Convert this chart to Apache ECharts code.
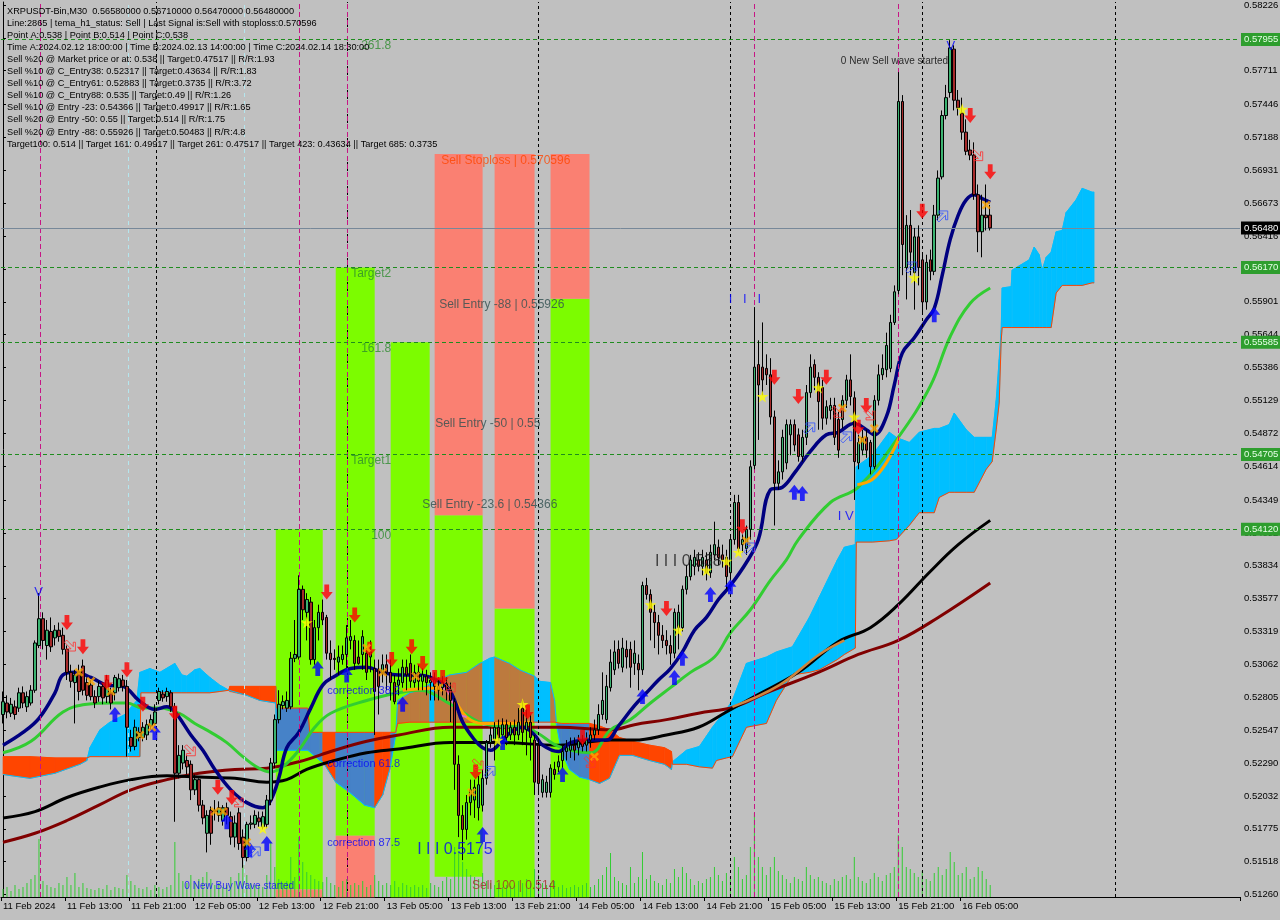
<!DOCTYPE html>
<html><head><meta charset="utf-8">
<script src="https://cdn.jsdelivr.net/npm/echarts@6/dist/echarts.min.js"></script>
<style>html,body{margin:0;padding:0;background:#C0C0C0;}#c{width:1280px;height:920px;}</style>
</head><body><div id="c"></div>
<script>
// ---------- DATA ----------
const ohlc = [ // [open, close, low, high]
[.5267,.5277,.5260,.5285],[.5276,.5269,.5264,.5282],[.5268,.5275,.5265,.5280],[.5273,.5267,.5263,.5278],
[.5272,.5284,.5269,.5288],[.5284,.5276,.5272,.5289],[.5273,.5281,.5269,.5285],[.5276,.5286,.5274,.5290],
[.5286,.5323,.5284,.5325],[.5321,.5342,.5319,.5362],[.5342,.5325,.5318,.5347],[.5321,.5333,.5310,.5341],
[.5332,.5320,.5316,.5343],[.5327,.5333,.5321,.5337],[.5333,.5328,.5324,.5339],[.5329,.5318,.5314,.5335],
[.5318,.5300,.5294,.5321],[.5300,.5293,.5288,.5306],[.5292,.5298,.5260,.5302],[.5300,.5285,.5278,.5306],
[.5305,.5286,.5282,.5310],[.5292,.5282,.5278,.5296],[.5290,.5281,.5278,.5294],[.5281,.5276,.5272,.5286],
[.5281,.5289,.5277,.5293],[.5289,.5280,.5275,.5292],[.5281,.5294,.5276,.5298],[.5284,.5276,.5271,.5288],
[.5284,.5296,.5278,.5298],[.5288,.5295,.5285,.5299],[.5294,.5289,.5285,.5298],[.5289,.5257,.5234,.5294],
[.5249,.5242,.5238,.5255],[.5242,.5257,.5239,.5263],[.5249,.5253,.5246,.5257],[.5249,.5257,.5246,.5261],
[.5251,.5259,.5247,.5263],[.5258,.5263,.5255,.5267],[.5260,.5269,.5259,.5275],[.5278,.5285,.5275,.5288],
[.5283,.5280,.5277,.5286],[.5281,.5285,.5277,.5288],[.5284,.5273,.5269,.5286],[.5273,.5221,.5183,.5276],
[.5221,.5235,.5217,.5243],[.5229,.5239,.5224,.5243],[.5231,.5226,.5220,.5235],[.5228,.5208,.5200,.5231],
[.5208,.5216,.5204,.5220],[.5216,.5196,.5191,.5217],[.5196,.5186,.5181,.5200],[.5174,.5188,.5159,.5192],
[.5192,.5174,.5165,.5195],[.5192,.5191,.5184,.5200],[.5188,.5194,.5183,.5199],[.5184,.5194,.5180,.5196],
[.5194,.5188,.5181,.5198],[.5187,.5171,.5165,.5191],[.5171,.5182,.5163,.5188],[.5190,.5166,.5161,.5194],
[.5171,.5155,.5147,.5177],[.5155,.5181,.5152,.5183],[.5181,.5182,.5177,.5188],[.5181,.5188,.5178,.5192],
[.5186,.5183,.5179,.5191],[.5179,.5187,.5177,.5191],[.5181,.5200,.5178,.5204],[.5200,.5229,.5196,.5233],
[.5229,.5263,.5225,.5267],[.5263,.5275,.5260,.5286],[.5274,.5277,.5271,.5282],[.5272,.5278,.5269,.5285],
[.5273,.5311,.5271,.5316],[.5311,.5314,.5308,.5341],[.5312,.5365,.5310,.5376],[.5365,.5349,.5341,.5368],
[.5347,.5357,.5325,.5362],[.5355,.5310,.5306,.5359],[.5310,.5335,.5306,.5341],[.5335,.5347,.5325,.5353],
[.5347,.5341,.5337,.5357],[.5343,.5315,.5310,.5345],[.5315,.5310,.5294,.5325],[.5311,.5310,.5302,.5318],
[.5308,.5312,.5298,.5321],[.5310,.5314,.5306,.5321],[.5314,.5327,.5303,.5337],[.5325,.5328,.5318,.5341],
[.5325,.5307,.5302,.5329],[.5312,.5307,.5306,.5325],[.5314,.5328,.5302,.5333],[.5315,.5300,.5294,.5319],
[.5312,.5316,.5300,.5325],[.5303,.5285,.5251,.5310],[.5302,.5289,.5267,.5310],[.5300,.5306,.5292,.5314],
[.5306,.5300,.5286,.5314],[.5300,.5292,.5278,.5310],[.5292,.5277,.5275,.5298],[.5290,.5294,.5282,.5303],
[.5292,.5304,.5288,.5310],[.5304,.5298,.5286,.5310],[.5307,.5293,.5288,.5314],[.5292,.5300,.5288,.5306],
[.5300,.5293,.5286,.5306],[.5293,.5298,.5286,.5303],[.5297,.5292,.5282,.5302],[.5292,.5294,.5278,.5300],
[.5294,.5289,.5278,.5300],[.5289,.5286,.5278,.5296],[.5288,.5292,.5282,.5297],[.5291,.5286,.5278,.5296],
[.5286,.5278,.5261,.5292],[.5277,.5228,.5208,.5280],[.5228,.5188,.5171,.5235],[.5188,.5177,.5153,.5196],
[.5177,.5198,.5169,.5204],[.5198,.5208,.5188,.5216],[.5200,.5210,.5186,.5216],[.5194,.5212,.5184,.5219],
[.5196,.5217,.5191,.5224],[.5217,.5245,.5212,.5247],[.5245,.5251,.5241,.5257],[.5247,.5257,.5231,.5261],
[.5257,.5249,.5246,.5263],[.5251,.5259,.5247,.5264],[.5259,.5249,.5243,.5263],[.5251,.5257,.5247,.5261],
[.5257,.5251,.5243,.5263],[.5251,.5261,.5247,.5272],[.5272,.5253,.5243,.5278],[.5255,.5261,.5235,.5271],
[.5261,.5249,.5231,.5267],[.5247,.5214,.5204,.5251],[.5243,.5213,.5204,.5247],[.5206,.5216,.5202,.5220],
[.5206,.5214,.5202,.5219],[.5206,.5225,.5202,.5228],[.5224,.5220,.5216,.5230],[.5226,.5230,.5222,.5235],
[.5231,.5238,.5225,.5243],[.5238,.5241,.5231,.5247],[.5239,.5243,.5233,.5249],[.5243,.5239,.5231,.5249],
[.5241,.5246,.5235,.5251],[.5246,.5242,.5238,.5251],[.5243,.5247,.5238,.5253],[.5247,.5251,.5241,.5257],
[.5251,.5255,.5247,.5263],[.5255,.5267,.5251,.5275],[.5267,.5278,.5263,.5300],[.5263,.5289,.5260,.5298],
[.5288,.5308,.5285,.5318],[.5302,.5316,.5298,.5325],[.5318,.5307,.5303,.5325],[.5304,.5319,.5300,.5327],
[.5318,.5312,.5303,.5325],[.5318,.5304,.5288,.5324],[.5307,.5315,.5298,.5325],[.5307,.5302,.5286,.5314],
[.5302,.5368,.5298,.5371],[.5368,.5361,.5357,.5374],[.5361,.5347,.5325,.5365],[.5347,.5339,.5319,.5353],
[.5339,.5329,.5314,.5345],[.5329,.5325,.5319,.5337],[.5325,.5321,.5314,.5333],[.5321,.5315,.5306,.5329],
[.5315,.5347,.5311,.5350],[.5335,.5347,.5318,.5353],[.5335,.5365,.5332,.5368],[.5365,.5375,.5361,.5384],
[.5375,.5388,.5372,.5392],[.5383,.5390,.5376,.5396],[.5388,.5383,.5379,.5394],[.5383,.5390,.5376,.5396],
[.5388,.5378,.5372,.5394],[.5378,.5394,.5374,.5400],[.5392,.5400,.5388,.5418],[.5398,.5390,.5384,.5404],
[.5392,.5388,.5382,.5400],[.5390,.5375,.5365,.5396],[.5378,.5404,.5372,.5408],[.5404,.5433,.5400,.5439],
[.5433,.5397,.5394,.5439],[.5400,.5404,.5394,.5408],[.5397,.5412,.5392,.5415],[.5412,.5461,.5404,.5466],
[.5462,.5539,.5459,.5586],[.5541,.5525,.5482,.5560],[.5539,.5529,.5517,.5574],[.5538,.5533,.5525,.5549],
[.5533,.5500,.5494,.5546],[.5500,.5448,.5415,.5505],[.5448,.5457,.5443,.5466],[.5457,.5484,.5451,.5490],
[.5464,.5494,.5459,.5498],[.5486,.5494,.5470,.5498],[.5494,.5478,.5473,.5498],[.5486,.5469,.5465,.5491],
[.5469,.5484,.5465,.5490],[.5484,.5519,.5478,.5525],[.5519,.5539,.5515,.5549],[.5541,.5531,.5521,.5545],
[.5531,.5512,.5490,.5535],[.5523,.5499,.5490,.5529],[.5499,.5508,.5494,.5513],[.5505,.5509,.5498,.5515],
[.5509,.5484,.5478,.5515],[.5498,.5474,.5468,.5504],[.5498,.5513,.5491,.5517],[.5513,.5529,.5507,.5533],
[.5529,.5516,.5509,.5549],[.5515,.5465,.5435,.5520],[.5464,.5480,.5459,.5486],[.5474,.5484,.5470,.5490],
[.5484,.5474,.5468,.5490],[.5480,.5461,.5455,.5482],[.5461,.5513,.5459,.5517],[.5513,.5533,.5509,.5541],
[.5533,.5538,.5529,.5549],[.5537,.5556,.5531,.5566],[.5538,.5574,.5535,.5580],[.5574,.5598,.5572,.5603],
[.5599,.5747,.5596,.5770],[.5747,.5635,.5611,.5752],[.5617,.5650,.5592,.5658],[.5650,.5629,.5611,.5662],
[.5613,.5641,.5584,.5648],[.5641,.5617,.5603,.5650],[.5623,.5590,.5580,.5627],[.5590,.5621,.5584,.5627],
[.5623,.5614,.5607,.5631],[.5614,.5658,.5611,.5666],[.5658,.5687,.5654,.5693],[.5688,.5736,.5686,.5740],
[.5736,.5750,.5733,.5760],[.5754,.5789,.5750,.5795],[.5788,.5748,.5740,.5791],[.5748,.5742,.5736,.5756],
[.5738,.5723,.5717,.5750],[.5723,.5708,.5705,.5733],[.5709,.5705,.5701,.5717],[.5705,.5674,.5670,.5715],
[.5674,.5645,.5629,.5682],[.5645,.5658,.5625,.5674],[.5658,.5656,.5646,.5682],[.5658,.5648,.5646,.5666]
];
const volume = [
8,10,6,12,8,10,14,18, 22,58,16,12,10,9,14,12, 20,12,24,10,14,9,8,7, 9,8,12,7,10,9,8,22,
16,12,9,8,10,7,12,10, 8,10,12,55,24,16,14,22, 14,18,20,25,18,12,14,10, 12,20,16,24,32,22,14,12,
12,10,22,55,30,18,14,16, 40,20,60,35,25,22,18,16, 15,20,14,12,10,16,18,12, 14,12,16,10,12,22,16,12,
14,12,16,10,14,12,10,12, 10,12,9,14,12,10,16,20, 18,50,45,35,28,22,20,18, 24,16,14,12,14,10,12,11,
12,16,14,18,14,28,22,14, 12,14,16,10,12,9,10,12, 10,12,14,10,12,18,22,30, 44,20,16,14,12,30,14,20,
45,18,22,16,14,12,18,14, 28,20,30,24,18,12,16,14, 18,20,30,22,16,24,20,40, 30,18,22,50,84,40,30,22,
30,40,26,22,18,14,20,18, 16,30,22,18,20,16,14,12, 18,16,20,22,18,40,20,16, 14,18,24,20,16,22,24,30,
62,50,30,28,24,20,26,18, 16,24,30,22,28,45,35,22, 24,30,18,20,30,26,18,12
];
// moving averages: [bar index, price]
const maNavy = [[0,.5243],[5,.5253],[9,.5264],[13,.5284],[15,.5298],[18,.5300],[22,.5296],[26,.5290],[30,.5289],[34,.5278],[38,.5271],[41,.5273],[43,.5269],[47,.5251],[50,.5239],[53,.5224],[57,.5208],[61,.5198],[65,.5194],[67,.5200],[69,.5217],[71,.5241],[74,.5253],[77,.5272],[80,.5290],[83,.5297],[87,.5303],[91,.5304],[95,.5300],[99,.5298],[104,.5298],[107,.5296],[111,.5289],[113,.5278],[115,.5261],[118,.5247],[120,.5241],[122,.5239],[125,.5247],[127,.5253],[130,.5257],[133,.5251],[135,.5243],[139,.5238],[142,.5245],[147,.5247],[151,.5247],[154,.5258],[158,.5274],[161,.5284],[164,.5294],[167,.5303],[170,.5316],[173,.5333],[176,.5343],[179,.5357],[182,.5368],[186,.5386],[189,.5404],[192,.5443],[195,.5445],[198,.5456],[202,.5473],[206,.5486],[209,.5488],[213,.5495],[216,.5490],[218,.5486],[221,.5500],[223,.5525],[225,.5550],[228,.5562],[231,.5576],[233,.5585],[235,.5611],[237,.5639],[239,.5658],[241,.5670],[243,.5674],[245,.5671],[247,.5668]];
const maGreen = [[0,.5237],[7,.5246],[15,.5269],[21,.5275],[27,.5276],[31,.5276],[35,.5272],[39,.5272],[44,.5268],[48,.5260],[52,.5253],[56,.5245],[60,.5234],[64,.5225],[67,.5222],[70,.5226],[74,.5239],[78,.5257],[82,.5268],[91,.5278],[99,.5284],[104,.5286],[112,.5275],[120,.5260],[132,.5255],[139,.5242],[147,.5237],[152,.5255],[157,.5263],[162,.5276],[167,.5288],[172,.5300],[178,.5312],[182,.5331],[187,.5349],[192,.5372],[196,.5388],[199,.5404],[207,.5433],[214,.5445],[224,.5484],[232,.5524],[237,.5563],[242,.5589],[247,.5601]];
const maBlack = [[0,.5186],[8,.5191],[16,.5202],[24,.5210],[32,.5216],[41,.5219],[49,.5218],[58,.5217],[66,.5214],[71,.5216],[76,.5224],[83,.5231],[91,.5237],[99,.5240],[112,.5245],[124,.5245],[139,.5243],[152,.5247],[158,.5247],[166,.5251],[174,.5257],[181,.5269],[188,.5281],[199,.5300],[209,.5324],[217,.5335],[224,.5353],[232,.5379],[239,.5400],[247,.5419]];
const maMaroon = [[0,.5167],[8,.5174],[16,.5184],[24,.5196],[32,.5208],[41,.5216],[49,.5221],[58,.5224],[66,.5225],[74,.5230],[83,.5239],[91,.5246],[99,.5251],[112,.5257],[124,.5257],[139,.5257],[152,.5255],[158,.5259],[166,.5263],[174,.5268],[183,.5273],[191,.5284],[204,.5300],[214,.5314],[224,.5325],[234,.5343],[247,.5370]];
const maOrangeA = [[100,.5286],[110,.5288],[113,.5278],[116,.5265],[120,.5260],[124,.5260],[132.5,.5261]];
const maOrangeB = [[213.75,.5447],[217.5,.5451],[221,.5464],[224.25,.5484]];
const maPeru = [[182.5,.5273],[194.25,.5290],[204.25,.5314],[210.5,.5325]];
const maOrchid = [[108.5,.5289],[111,.5286],[114,.5268],[116,.5265]];
// ichimoku cloud keypoints
const cloudX = [0,6.75,13,19.25,21,21.75,24.25,26.75,30.5,33.5,34.25,34.5,36.75,39.25,43,44.75,46,48,49.25,51.75,54.25,56.5,56.75,61,64.25,68.25,68.5,76.25,76.75,79.25,80,83.25,86.75,90.5,93,95,96.75,97,98.25,98.75,101.75,104.25,106.75,108,111.75,116,119.25,120,121.75,123,126.75,129.25,133,134.25,137,138,138.5,139.75,141.75,144.25,146.75,149.25,151.75,154.25,157.5,161.75,165.5,167.25,167.5,171,174.25,177.5,178.5,181,182.5,186,191,193.5,197.5,201.75,204.25,208.75,210.5,213.25,213.5,217.5,221.75,223.5,226.75,229.25,233,234.25,236.75,238,241,243,246,247.5,248.5,249.25,249.75,250,252.25,252.5,256.75,258,259.25,260,261,262.25,263.5,265,266,268.5,270,272.5,273];
const cloudA = [.5220,.5217,.5221,.5228,.5231,.5241,.5255,.5261,.5267,.5278,.5300,.5300,.5303,.5300,.5307,.5298,.5297,.5302,.5303,.5296,.5290,.5286,.5285,.5282,.5278,.5276,.5239,.5239,.5238,.5231,.5230,.5214,.5206,.5196,.5194,.5204,.5224,.5228,.5251,.5278,.5284,.5286,.5291,.5293,.5298,.5300,.5307,.5308,.5311,.5312,.5307,.5302,.5297,.5293,.5292,.5278,.5259,.5238,.5224,.5218,.5216,.5213,.5217,.5235,.5235,.5231,.5228,.5224,.5230,.5239,.5242,.5257,.5261,.5271,.5278,.5307,.5312,.5316,.5320,.5343,.5359,.5388,.5398,.5400,.5461,.5470,.5488,.5484,.5480,.5488,.5491,.5491,.5494,.5503,.5490,.5484,.5484,.5484,.5513,.5545,.5568,.5601,.5602,.5615,.5623,.5633,.5627,.5615,.5625,.5629,.5645,.5646,.5660,.5670,.5679,.5676,.5676];
const cloudB = [.5234,.5234,.5233,.5233,.5233,.5234,.5234,.5234,.5234,.5234,.5234,.5284,.5284,.5284,.5284,.5284,.5284,.5284,.5284,.5284,.5285,.5286,.5289,.5289,.5289,.5289,.5272,.5272,.5253,.5253,.5253,.5253,.5253,.5253,.5253,.5253,.5253,.5253,.5253,.5260,.5261,.5261,.5261,.5261,.5261,.5261,.5261,.5261,.5261,.5261,.5261,.5261,.5261,.5261,.5261,.5261,.5260,.5260,.5260,.5260,.5260,.5258,.5255,.5249,.5246,.5243,.5241,.5238,.5228,.5228,.5226,.5225,.5231,.5233,.5234,.5257,.5260,.5278,.5298,.5300,.5302,.5310,.5314,.5319,.5402,.5402,.5403,.5404,.5415,.5425,.5425,.5437,.5441,.5441,.5441,.5441,.5459,.5465,.5490,.5511,.5560,.5570,.5570,.5570,.5570,.5570,.5570,.5570,.5570,.5570,.5597,.5603,.5603,.5603,.5603,.5605,.5605];
// fibo zones: [fromBar, toBar, topPrice, bottomPrice]
const greenZones = [[68.25,80,.5412,.5130],[83.25,93,.5617,.5172],[97,106.75,.55585,.5124],[108,120,.5423,.514],[123,133,.5350,.5124],[137,146.75,.55926,.5124]];
const salmonZones = [[68.25,80,.5130,.5124],[83.25,93,.5172,.5124],[108,120,.570596,.5423],[123,133,.570596,.5350],[137,146.75,.570596,.55926]];
const levelPrices = [0.57955, 0.5617, 0.55585, 0.54705, 0.5412];
const currentPrice = 0.5648;
const vMagenta = [9.25, 74, 86.25, 188, 224];
const vBlack = [38.25, 86.25, 134, 182, 230, 278.25];
const vCyan = [31.25, 60.25];
const yTicks = [0.58226,0.57969,0.57711,0.57446,0.57188,0.56931,0.56673,0.56416,0.56158,0.55901,0.55644,0.55386,0.55129,0.54872,0.54614,0.54349,0.54092,0.53834,0.53577,0.53319,0.53062,0.52805,0.52547,0.52290,0.52032,0.51775,0.51518,0.51260];
// signals
const sigDown = [[16,.5339],[20,.5320],[26,.5292],[31,.5302],[35,.5275],[43,.5268],[53.75,.5210],[57.25,.5202],[81,.5363],[88,.5345],[91.75,.5318],[97.25,.5310],[102.25,.5320],[105,.5307],[108,.5296],[110,.5296],[118.25,.5222],[131.25,.5269],[145,.5249],[166,.5350],[185,.5414],[193,.5531],[199,.5516],[206,.5531],[214,.5492],[216,.5509],[230,.5661],[242,.5736],[247,.5692]];
const sigUp = [[28,.5267],[38,.5253],[56,.5183],[61.75,.5161],[66,.5166],[78.75,.5303],[86,.5298],[100,.5275],[120,.5173],[125,.5245],[140,.5220],[160,.5281],[168,.5296],[170,.5311],[177,.5361],[182,.5367],[198,.5441],[200,.5440],[233,.5580]];
const sigStar = [[65,.5178],[76,.5339],[123.75,.5247],[130,.5275],[162,.5353],[169,.5333],[176,.5380],[181,.5387],[184,.5394],[190,.5516],[204,.5523],[213,.5500],[228,.5609],[240,.5741]];
const sigCross = [[19,.5300],[22,.5293],[27,.5285],[34.25,.5251],[37.25,.5257],[53,.5191],[55,.5191],[61,.5167],[91,.5319],[95,.5300],[103.25,.5297],[109,.5288],[117.25,.5206],[148,.5234],[186,.5403],[210,.5507],[215,.5482],[218,.5491],[246,.5666]];
const sigExitSell = [[16.75,.5321],[46.75,.5239],[58.75,.5199],[111.75,.5289],[118.75,.5228],[146.75,.5230],[208.75,.5504],[216.75,.5502],[243.75,.5705]];
const sigExitBuy = [[63,.5159],[121.75,.5222],[186.75,.5397],[201.75,.5491],[211,.5484],[227.25,.5617],[235,.5657]];
// text annotations [text, bar, price]
const fibTexts = [['261.8',97.25,0.57955],['Target2',97.25,0.5617],['161.8',97.25,0.55585],['Target1',97.25,0.54705],['100',97.25,0.5412]];
const sellTexts = [['Sell Stoploss | 0.570596',109.75,0.570596],['Sell Entry -88 | 0.55926',109.25,0.55926],['Sell Entry -50 | 0.55',108.25,0.55],['Sell Entry -23.6 | 0.54366',105,0.54366],['Sell 100 | 0.514',117.5,0.514]];
const corrTexts = [['correction 38.2',81.25,0.5285],['correction 61.8',81.25,0.5228],['correction 87.5',81.25,0.5166]];
const waveTexts = [['0 New Buy Wave started',45.5,0.5132,'#0000FF'],['0 New Sell wave started',209.75,0.5778,'#000000']];
const bigTexts = [['I I I 0.5175',103.75,0.5161,'#0000FF'],['I I I 0.538',163.25,0.5386,'#1A1A1A']];
const waveMarks = [['V',9,0.5362],['V',237.25,0.5790],['I   I   I',185.75,0.5592],['I V',211,0.5422]];
const infoLines = [
'XRPUSDT-Bin,M30  0.56580000 0.56710000 0.56470000 0.56480000',
'Line:2865 | tema_h1_status: Sell | Last Signal is:Sell with stoploss:0.570596',
'Point A:0.538 | Point B:0.514 | Point C:0.538',
'Time A:2024.02.12 18:00:00 | Time B:2024.02.13 14:00:00 | Time C:2024.02.14 18:30:00',
'Sell %20 @ Market price or at: 0.538 || Target:0.47517 || R/R:1.93',
'Sell %10 @ C_Entry38: 0.52317 || Target:0.43634 || R/R:1.83',
'Sell %10 @ C_Entry61: 0.52883 || Target:0.3735 || R/R:3.72',
'Sell %10 @ C_Entry88: 0.535 || Target:0.49 || R/R:1.26',
'Sell %10 @ Entry -23: 0.54366 || Target:0.49917 || R/R:1.65',
'Sell %20 @ Entry -50: 0.55 || Target:0.514 || R/R:1.75',
'Sell %20 @ Entry -88: 0.55926 || Target:0.50483 || R/R:4.8',
'Target100: 0.514 || Target 161: 0.49917 || Target 261: 0.47517 || Target 423: 0.43634 || Target 685: 0.3735'
];
const NBARS = 310;
const MON = ['Jan','Feb','Mar','Apr','May','Jun','Jul','Aug','Sep','Oct','Nov','Dec'];
const categories = [];
const t0 = Date.UTC(2024,1,11,5,0);
const pad = n => (n<10?'0':'')+n;
for (let i=0;i<NBARS;i++){const d=new Date(t0+i*1800000);categories.push(i===0?'11 Feb 2024':d.getUTCDate()+' '+MON[d.getUTCMonth()]+' '+pad(d.getUTCHours())+':'+pad(d.getUTCMinutes()));}

// ---------- CHART ----------
const FONT = '"Liberation Sans", Arial, sans-serif';
const chart = echarts.init(document.getElementById('c'), null, {width:1280, height:920});
const inZone = v => greenZones.some(z => v > z[0] && v < z[1]);
const lastBar = ohlc.length - 1;
const showTick = i => i % 16 === 0 && i <= lastBar;
function textSeries(items, lbl, colorIdx){
  return {type:'scatter', xAxisIndex:1, yAxisIndex:0, z:8, silent:true, symbol:'circle', symbolSize:1,
    itemStyle:{color:'rgba(0,0,0,0)'},
    data: items.map(t => ({value:[t[1],t[2]], label: Object.assign({formatter:t[0]}, colorIdx!==undefined?{color:t[colorIdx]}:{})})),
    label: Object.assign({show:true, fontFamily:FONT}, lbl)};
}
function maSeries(data, color, width, z){
  return {type:'line', xAxisIndex:1, yAxisIndex:0, data, symbol:'none', smooth:0.4, z:z||4, silent:true,
    lineStyle:{color, width}};
}
function sigSeries(data, path, size, style){
  return {type:'scatter', xAxisIndex:1, yAxisIndex:0, data, symbol:path, symbolSize:size, symbolKeepAspect:false, z:7, silent:true, itemStyle:style};
}
const boxLabel = (txt, bg, fg) => ({show:true, position:'end', distance:1, formatter:txt, backgroundColor:bg, color:fg, fontSize:9.5, fontFamily:FONT, padding:[2,6,1,3]});
const hLineData = levelPrices.map(p => ({yAxis:p, lineStyle:{color:'#1E8C1E', type:[4,3], width:1}, label:boxLabel(p.toFixed(5),'#2E9E2E','#E6FFE6')}));
hLineData.push({yAxis:currentPrice, lineStyle:{color:'#778899', type:'solid', width:1}, label:boxLabel(currentPrice.toFixed(5),'#000','#fff')});
const vLineData = [].concat(
  vCyan.map(v => ({xAxis:v, lineStyle:{color:'#B4E6EE', type:[4,4], width:1}, label:{show:false}})),
  vBlack.map(v => ({xAxis:v, lineStyle:{color:'#000', type:[3,3], width:1}, label:{show:false}})),
  vMagenta.map(v => ({xAxis:v, lineStyle:{color:'#C71585', type:[5,3], width:1}, label:{show:false}}))
);

const option = {
  animation:false,
  backgroundColor:'#C0C0C0',
  textStyle:{fontFamily:FONT},
  grid:{left:1, right:40, top:2, bottom:23, containLabel:false, outerBoundsMode:'none'},
  xAxis:[
    {type:'category', data:categories, boundaryGap:true,
     axisLine:{show:true, lineStyle:{color:'#000', width:1}},
     axisTick:{show:true, interval:showTick, length:4, lineStyle:{color:'#000'}},
     axisLabel:{interval:showTick, align:'left', color:'#000', fontSize:9.5, fontFamily:FONT, margin:4, hideOverlap:false},
     splitLine:{show:false}},
    {type:'value', min:-0.5, max:NBARS-0.5, show:false, splitLine:{show:false}}
  ],
  yAxis:[
    {type:'value', position:'right', min:0.51241, max:0.58249, scale:true,
     axisLine:{show:true, lineStyle:{color:'#000', width:1}},
     axisTick:{show:true, customValues:yTicks, length:3, lineStyle:{color:'#000'}},
     axisLabel:{customValues:yTicks, formatter:v=>Number(v).toFixed(5), color:'#000', fontSize:9.5, fontFamily:FONT, margin:4, hideOverlap:false},
     splitLine:{show:false}},
    {type:'value', min:0, max:895, show:false, splitLine:{show:false}}
  ],
  graphic:[{type:'text', left:7, top:5, z:100, silent:true,
    style:{text:infoLines.join('\n'), font:'9.2px '+FONT, lineHeight:12.1, fill:'#000'}}],
  series:[
    // zones
    {type:'custom', xAxisIndex:1, yAxisIndex:0, z:1, silent:true,
     data: greenZones.map(z=>[z[0],z[2],z[1],z[3],0]).concat(salmonZones.map(z=>[z[0],z[2],z[1],z[3],1])),
     renderItem:(params, api)=>{
       const a = api.coord([api.value(0), api.value(1)]);
       const b = api.coord([api.value(2), api.value(3)]);
       return {type:'rect', shape:{x:a[0], y:a[1], width:b[0]-a[0], height:b[1]-a[1]},
         style:{fill: api.value(4)===0 ? '#7CFC00' : '#FA8072'}};
     }},
    // cloud
    {type:'custom', xAxisIndex:1, yAxisIndex:0, z:2, silent:true,
     data: cloudX.map((v,k)=>[v, cloudA[k], cloudB[k]]),
     renderItem:(params, api)=>{
       const k = params.dataIndex;
       if (k >= cloudX.length-1) return null;
       const v0 = cloudX[k], v1 = cloudX[k+1];
       const pts = [api.coord([v0,cloudA[k]]), api.coord([v1,cloudA[k+1]]), api.coord([v1,cloudB[k+1]]), api.coord([v0,cloudB[k]])];
       const bull = cloudA[k]+cloudA[k+1] >= cloudB[k]+cloudB[k+1];
       const z = inZone((v0+v1)/2);
       const fill = bull ? (z ? '#BC7A3E' : '#00BFFF') : (z ? '#4682C8' : '#FF4500');
       return {type:'polygon', shape:{points:pts}, style:{fill, stroke:fill, lineWidth:0.6}};
     }},
    // volume
    {type:'bar', xAxisIndex:0, yAxisIndex:1, data:volume, barWidth:1, z:2, silent:true, itemStyle:{color:'#33CC33'}},
    // cloud edges + reference lines
    {type:'line', xAxisIndex:1, yAxisIndex:0, data:cloudX.map((v,k)=>[v,cloudA[k]]), symbol:'none', z:3, silent:true, lineStyle:{color:'#00BFFF', width:1}},
    {type:'line', xAxisIndex:1, yAxisIndex:0, data:cloudX.map((v,k)=>[v,cloudB[k]]), symbol:'none', z:3, silent:true, lineStyle:{color:'#FF4500', width:1},
     markLine:{symbol:['none','none'], silent:true, animation:false, precision:8, data: vLineData.concat(hLineData)}},
    maSeries(maMaroon,'#800000',3),
    maSeries(maBlack,'#000000',3),
    maSeries(maGreen,'#32CD32',3),
    maSeries(maPeru,'#CD853F',2.5),
    maSeries(maOrangeA,'#FFA500',3),
    maSeries(maOrchid,'#DA70D6',2),
    maSeries(maOrangeB,'#FFA500',3),
    maSeries(maNavy,'#000080',3.5),
    // candles
    {type:'candlestick', xAxisIndex:0, yAxisIndex:0, data:ohlc, z:5, silent:true, barWidth:3,
     itemStyle:{color:'#3CB371', color0:'#A52A2A', borderColor:'#000', borderColor0:'#000', borderWidth:1}},
    // signals
    sigSeries(sigDown, 'path://M3,0 L7,0 L7,6 L10,6 L5,12 L0,6 L3,6 Z', [12,15], {color:'#FF0000'}),
    sigSeries(sigUp, 'path://M5,0 L10,6 L7,6 L7,12 L3,12 L3,6 L0,6 Z', [12,15], {color:'#0000FF'}),
    sigSeries(sigStar, 'path://M50,0 L61,35 L98,35 L68,57 L79,91 L50,70 L21,91 L32,57 L2,35 L39,35 Z', [12,12], {color:'#FFFF00'}),
    sigSeries(sigCross, 'path://M0,2 L2,0 L5,3 L8,0 L10,2 L7,5 L10,8 L8,10 L5,7 L2,10 L0,8 L3,5 Z', [9,9], {color:'#FFA500'}),
    sigSeries(sigExitSell, 'path://M0,2 L2,0 L8,6 L8,2 L10,2 L10,10 L2,10 L2,8 L6,8 Z', [11,11], {color:'rgba(0,0,0,0)', borderColor:'#FF3030', borderWidth:1}),
    sigSeries(sigExitBuy, 'path://M0,8 L2,10 L8,4 L8,8 L10,8 L10,0 L2,0 L2,2 L6,2 Z', [11,11], {color:'rgba(0,0,0,0)', borderColor:'#3050FF', borderWidth:1}),
    // texts
    textSeries(fibTexts, {position:[0,1], align:'right', verticalAlign:'top', fontSize:12, color:'#2E8B2E'}),
    textSeries(sellTexts.slice(0,1), {position:[0,1], align:'left', verticalAlign:'top', fontSize:12, color:'#FF4500'}),
    textSeries(sellTexts.slice(1,4), {position:[0,1], align:'left', verticalAlign:'top', fontSize:12, color:'#2F4F4F'}),
    textSeries(sellTexts.slice(4), {position:[0,3], align:'left', verticalAlign:'top', fontSize:12, color:'#A52A2A'}),
    textSeries(corrTexts, {position:[0,0], align:'left', verticalAlign:'middle', fontSize:11, color:'#0000FF'}),
    textSeries(waveTexts, {position:[0,0], align:'left', verticalAlign:'middle', fontSize:10}, 3),
    textSeries(bigTexts, {position:[0,0], align:'left', verticalAlign:'middle', fontSize:16}, 3),
    textSeries(waveMarks, {position:[0,0], align:'center', verticalAlign:'middle', fontSize:13, color:'#0000FF'})
  ]
};
chart.setOption(option);
</script></body></html>
